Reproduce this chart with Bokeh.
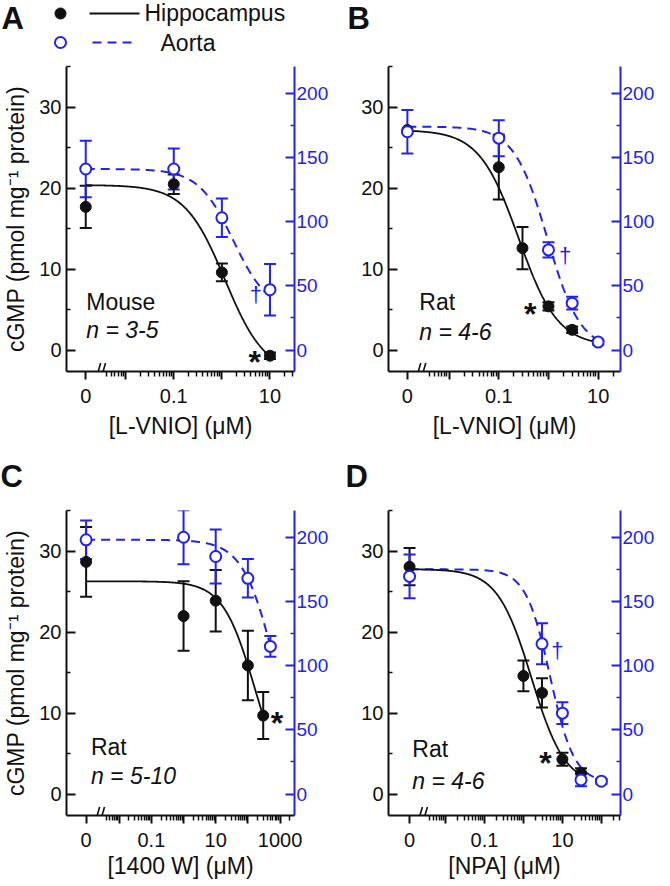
import numpy as np
from bokeh.plotting import figure
from bokeh.models import (Range1d, LinearAxis, FixedTicker, CustomJSTickFormatter,
                          Whisker, TeeHead, ColumnDataSource, Label)
from bokeh.layouts import column, row
from bokeh.embed import file_html
from bokeh.resources import INLINE
from bokeh.core.properties import value

BLUE = "#2222ee"
INK = "#111111"
FONT = "Liberation Sans"
RIGHT_SCALE = 6.3            # aorta axis units per hippocampus axis unit
Y_LEFT = (-2.65, 35.05)

# ---------------- data ----------------
# Panel A: mouse, L-VNIO
a_hip_conc = [0, 0.1, 1, 10]
a_hip_cgmp = [17.7, 20.5, 9.6, -0.7]
a_hip_sem = [2.6, 1.2, 1.1, 0.4]
a_aor_conc = [0, 0.1, 1, 10]
a_aor_cgmp = [141, 141, 103, 47]
a_aor_sem = [22, 16, 15, 20]
# Panel B: rat, L-VNIO
b_hip_conc = [0, 0.1, 0.3, 1, 3]
b_hip_cgmp = [27.2, 22.6, 12.6, 5.4, 2.5]
b_hip_sem = [0, 4.0, 2.6, 0.5, 0.4]
b_aor_conc = [0, 0.1, 1, 3, 10]
b_aor_cgmp = [170, 165, 78, 36.5, 6.2]
b_aor_sem = [17, 14, 6, 5, 2]
# Panel C: rat, 1400 W
c_hip_conc = [0, 1, 10, 100, 300]
c_hip_cgmp = [28.7, 22.0, 23.9, 15.9, 9.7]
c_hip_sem = [4.3, 4.3, 3.8, 4.3, 2.9]
c_aor_conc = [0, 1, 10, 100, 500]
c_aor_cgmp = [198, 200, 185, 168, 115]
c_aor_sem = [15, 21, 21, 15, 8]
# Panel D: rat, NPA
d_hip_conc = [0, 1, 3, 10, 30]
d_hip_cgmp = [28.1, 14.6, 12.5, 4.3, 2.6]
d_hip_sem = [2.3, 1.9, 1.8, 0.8, 0.6]
d_aor_conc = [0, 3, 10, 30, 100]
d_aor_cgmp = [169.5, 117, 63, 11, 10]
d_aor_sem = [17, 16, 8.5, 5, 2]

# fitted sigmoid curves: (top, bottom, IC50, Hill slope, last concentration)
a_hip_fit = (20.4, -3.0, 1.16, 1.04, 10)
a_aor_fit = (141, 30, 1.72, 1.2, 10)
b_hip_fit = (27.2, 0.5, 0.25, 1.1, 10)
b_aor_fit = (174, 0, 0.95, 1.3, 10)
c_hip_fit = (26.3, 0, 162, 0.88, 300)
c_aor_fit = (198, 0, 730, 0.866, 500)
d_hip_fit = (27.8, 1, 1.6, 1.0, 30)
d_aor_fit = (175, 9, 4.8, 1.4, 100)

left_ticks = [0, 10, 20, 30]
left_minor = [5, 15, 25, 35]
right_ticks = [0, 50, 100, 150, 200]
right_minor = [25, 75, 125, 175]

y_title = "cGMP (pmol mg\u207b\u00b9 protein)"
legend_names = ["Hippocampus", "Aorta"]


def hill(x, top, bottom, ic50, n):
    return bottom + (top - bottom) / (1.0 + (x / ic50) ** n)


def strip(width, height):
    s = figure(width=width, height=height, x_range=Range1d(0, width),
               y_range=Range1d(height, 0), output_backend="svg",
               toolbar_location=None, title=None,
               min_border=0, min_border_left=0, min_border_right=0,
               min_border_top=0, min_border_bottom=0)
    s.axis.visible = False
    s.xgrid.visible = False
    s.ygrid.visible = False
    s.outline_line_color = None
    s.background_fill_color = "white"
    s.border_fill_color = "white"
    return s


def make_panel(cfg):
    zero = 10 ** cfg["zero_log"]
    p = figure(width=cfg["w"], height=cfg["h"], x_axis_type="log",
               x_range=Range1d(10 ** cfg["x_lo"], 10 ** cfg["x_hi"]),
               y_range=Range1d(*Y_LEFT), output_backend="svg",
               toolbar_location=None, title=None,
               min_border_left=cfg["bl"], min_border_right=cfg["br"],
               min_border_top=cfg["bt"], min_border_bottom=cfg["bb"])
    p.extra_y_ranges = {"aorta": Range1d(Y_LEFT[0] * RIGHT_SCALE,
                                         Y_LEFT[1] * RIGHT_SCALE)}
    p.xgrid.visible = False
    p.ygrid.visible = False
    p.outline_line_color = None
    p.background_fill_color = "white"
    p.border_fill_color = "white"

    # ---- x axis (log with a zero position) ----
    decades = [10.0 ** k for k in range(-2, 5) if cfg["x_lo"] < k < cfg["x_hi"]]
    majors = [zero] + decades
    minors = []
    for k in range(-3, 5):
        for m in range(2, 10):
            v = m * 10.0 ** k
            lv = np.log10(v)
            if cfg["break_log"] + 0.1 < lv < cfg["x_hi"]:
                minors.append(v)
    lab_vals = [zero] + [v for v, _ in cfg["labels"]]
    lab_text = ["0"] + [t for _, t in cfg["labels"]]
    xa = p.xaxis[0]
    xa.ticker = FixedTicker(ticks=majors, minor_ticks=minors)
    xa.formatter = CustomJSTickFormatter(
        args=dict(vals=lab_vals, labs=lab_text),
        code="""
        const lt = Math.log10(tick);
        for (let i = 0; i < vals.length; i++) {
            if (Math.abs(lt - Math.log10(vals[i])) < 1e-6) { return labs[i]; }
        }
        return "";
        """)
    xa.axis_label = cfg["xlabel"]
    xa.axis_line_color = INK
    xa.axis_line_width = 2
    xa.major_tick_line_color = INK
    xa.major_tick_line_width = 2
    xa.minor_tick_line_color = INK
    xa.minor_tick_line_width = 1.5
    xa.major_tick_in = 0
    xa.major_tick_out = 8
    xa.minor_tick_in = 0
    xa.minor_tick_out = 5
    xa.major_label_standoff = 9
    xa.major_label_text_font = FONT
    xa.major_label_text_font_size = "20px"
    xa.major_label_text_color = INK
    xa.axis_label_standoff = cfg["xls"]
    xa.axis_label_text_font = FONT
    xa.axis_label_text_font_size = "23px"
    xa.axis_label_text_font_style = "normal"
    xa.axis_label_text_color = INK

    # ---- left axis ----
    ya = p.yaxis[0]
    ya.ticker = FixedTicker(ticks=left_ticks, minor_ticks=left_minor)
    ya.axis_label = cfg["ylabel"]
    ya.axis_line_color = INK
    ya.axis_line_width = 2
    ya.major_tick_line_color = INK
    ya.major_tick_line_width = 2
    ya.minor_tick_line_color = INK
    ya.minor_tick_line_width = 1.5
    ya.major_tick_in = 9
    ya.major_tick_out = 0
    ya.minor_tick_in = 4
    ya.minor_tick_out = 0
    ya.major_label_standoff = 5
    ya.major_label_text_font = FONT
    ya.major_label_text_font_size = "20px"
    ya.major_label_text_color = INK
    ya.axis_label_standoff = 7
    ya.axis_label_text_font = FONT
    ya.axis_label_text_font_size = "23px"
    ya.axis_label_text_font_style = "normal"
    ya.axis_label_text_color = INK

    # ---- right (aorta) axis ----
    ra = LinearAxis(y_range_name="aorta",
                    ticker=FixedTicker(ticks=right_ticks, minor_ticks=right_minor))
    ra.axis_line_color = BLUE
    ra.axis_line_width = 2
    ra.major_tick_line_color = BLUE
    ra.major_tick_line_width = 2
    ra.minor_tick_line_color = BLUE
    ra.minor_tick_line_width = 1.5
    ra.major_tick_in = 9
    ra.major_tick_out = 0
    ra.minor_tick_in = 4
    ra.minor_tick_out = 0
    ra.major_label_standoff = 2
    ra.major_label_text_font = FONT
    ra.major_label_text_font_size = "19px"
    ra.major_label_text_color = BLUE
    p.add_layout(ra, "right")

    # ---- fitted curves ----
    hf, af = cfg["hip_fit"], cfg["aor_fit"]
    xs_h = np.logspace(cfg["zero_log"], np.log10(hf[4]), 300)
    xs_a = np.logspace(cfg["zero_log"], np.log10(af[4]), 300)
    p.line(xs_a, hill(xs_a, *af[:4]), y_range_name="aorta",
           line_color=BLUE, line_width=2, line_dash="9 6")
    p.line(xs_h, hill(xs_h, *hf[:4]), line_color=INK, line_width=1.8)

    # ---- points ----
    hx = [zero if c == 0 else c for c in cfg["hip"][0]]
    ax = [zero if c == 0 else c for c in cfg["aor"][0]]
    p.scatter(hx, cfg["hip"][1], marker="circle", size=11,
              fill_color=INK, line_color=INK)
    p.scatter(ax, cfg["aor"][1], marker="circle", size=11, y_range_name="aorta",
              fill_color="white", line_color=BLUE, line_width=2)

    # ---- error bars ----
    def whisk(xv, yv, ev, color, rng=None):
        keep = [i for i, e in enumerate(ev) if e > 0]
        src = ColumnDataSource(dict(
            x=[xv[i] for i in keep],
            lo=[yv[i] - ev[i] for i in keep],
            hi=[yv[i] + ev[i] for i in keep]))
        kw = dict(base="x", lower="lo", upper="hi", source=src,
                  dimension="height", line_color=color, line_width=2,
                  upper_head=TeeHead(size=12, line_color=color, line_width=2),
                  lower_head=TeeHead(size=12, line_color=color, line_width=2))
        if rng:
            kw["y_range_name"] = rng
        p.add_layout(Whisker(**kw))

    whisk(hx, cfg["hip"][1], cfg["hip"][2], INK)
    whisk(ax, cfg["aor"][1], cfg["aor"][2], BLUE, "aorta")

    # ---- axis break marks (two slashes across the x axis) ----
    fw = cfg["w"] - cfg["bl"] - cfg["br"]
    ppd = fw / (cfg["x_hi"] - cfg["x_lo"])      # pixels per decade
    ppu = 305.0 / (Y_LEFT[1] - Y_LEFT[0])       # pixels per cGMP unit
    bx0, bx1, by0, by1 = [], [], [], []
    for off in (-2.5, 2.5):
        c = cfg["break_log"] + off / ppd
        bx0.append(10 ** (c - 2.5 / ppd))
        bx1.append(10 ** (c + 2.5 / ppd))
        by0.append(Y_LEFT[0] - 8.5 / ppu)
        by1.append(Y_LEFT[0] + 8.5 / ppu)
    p.segment(bx0, by0, bx1, by1, line_color=INK, line_width=1.6)

    # ---- texts ----
    p.add_layout(Label(x=10 ** cfg["species"][0], y=cfg["species"][1],
                       text=cfg["species"][2], text_font=FONT, text_font_size="23px",
                       text_color=INK, text_baseline="middle"))
    p.add_layout(Label(x=10 ** cfg["species"][0], y=cfg["nlab"][0],
                       text=cfg["nlab"][1], text_font=FONT, text_font_size="23px",
                       text_font_style="italic", text_color=INK,
                       text_baseline="middle"))
    for (sx, sy) in cfg["stars"]:
        p.add_layout(Label(x=sx, y=sy, text="*", text_font=FONT,
                           text_font_size="32px", text_font_style="bold",
                           text_color=INK, text_align="center",
                           text_baseline="middle"))
    for (dx, dy) in cfg["daggers"]:
        p.add_layout(Label(x=dx, y=dy, text="\u2020", text_font=FONT,
                           text_font_size="22px", text_color=BLUE,
                           text_align="center", text_baseline="middle",
                           y_range_name="aorta"))
    return p


WA, WB = 336, 326
H0, H1, HM, H2 = 56, 387, 57, 382
cfgA = dict(w=WA, h=H1, x_lo=-3.23, x_hi=1.51, zero_log=-2.83, break_log=-2.52,
            labels=[(0.1, "0.1"), (10, "10")], xlabel="[L-VNIO] (\u03bcM)",
            ylabel=y_title, bl=60, br=42, bt=10, bb=72, xls=7,
            hip=(a_hip_conc, a_hip_cgmp, a_hip_sem),
            aor=(a_aor_conc, a_aor_cgmp, a_aor_sem),
            hip_fit=a_hip_fit, aor_fit=a_aor_fit,
            species=(-2.82, 5.9, "Mouse"), nlab=(2.5, "n = 3-5"),
            stars=[(4.84, -1.5)], daggers=[(5.07, 43.6)])
cfgB = dict(w=WB, h=H1, x_lo=-3.22, x_hi=1.45, zero_log=-2.84, break_log=-2.57,
            labels=[(0.1, "0.1"), (10, "10")], xlabel="[L-VNIO] (\u03bcM)",
            ylabel="", bl=52, br=42, bt=10, bb=72, xls=7,
            hip=(b_hip_conc, b_hip_cgmp, b_hip_sem),
            aor=(b_aor_conc, b_aor_cgmp, b_aor_sem),
            hip_fit=b_hip_fit, aor_fit=b_aor_fit,
            species=(-2.6, 5.9, "Rat"), nlab=(2.2, "n = 4-6"),
            stars=[(0.43, 4.4)], daggers=[(2.16, 74)])
cfgC = dict(w=WA, h=H2, x_lo=-3.64, x_hi=3.45, zero_log=-3.03, break_log=-2.61,
            labels=[(0.1, "0.1"), (10, "10"), (1000, "1000")],
            xlabel="[1400 W] (\u03bcM)",
            ylabel=y_title, bl=60, br=42, bt=10, bb=67, xls=3,
            hip=(c_hip_conc, c_hip_cgmp, c_hip_sem),
            aor=(c_aor_conc, c_aor_cgmp, c_aor_sem),
            hip_fit=c_hip_fit, aor_fit=c_aor_fit,
            species=(-2.88, 5.8, "Rat"), nlab=(2.2, "n = 5-10"),
            stars=[(800, 8.8)], daggers=[])
cfgD = dict(w=WB, h=H2, x_lo=-3.46, x_hi=2.49, zero_log=-2.92, break_log=-2.59,
            labels=[(0.1, "0.1"), (10, "10")], xlabel="[NPA] (\u03bcM)",
            ylabel="", bl=52, br=42, bt=10, bb=67, xls=3,
            hip=(d_hip_conc, d_hip_cgmp, d_hip_sem),
            aor=(d_aor_conc, d_aor_cgmp, d_aor_sem),
            hip_fit=d_hip_fit, aor_fit=d_aor_fit,
            species=(-2.85, 5.6, "Rat"), nlab=(1.6, "n = 4-6"),
            stars=[(3.7, 3.9)], daggers=[(7.46, 112)])

pA = make_panel(cfgA)
pB = make_panel(cfgB)
pC = make_panel(cfgC)
pD = make_panel(cfgD)

# ---- top strip: panel letters A, B and the legend ----
sA = strip(WA, H0)
sB = strip(WB, H0)
sA.text(x=[1], y=[18], text=["A"], text_font=value(FONT), text_font_size="31px",
        text_font_style="bold", text_color=INK, text_baseline="middle")
sB.text(x=[11], y=[18], text=["B"], text_font=value(FONT), text_font_size="31px",
        text_font_style="bold", text_color=INK, text_baseline="middle")
sA.scatter([60], [13], marker="circle", size=11, fill_color=INK, line_color=INK)
sA.line([89, 139], [13, 13], line_color=INK, line_width=2)
sA.text(x=[144], y=[12], text=[legend_names[0]], text_font=value(FONT),
        text_font_size="23px", text_color=INK, text_baseline="middle")
sA.scatter([60], [42], marker="circle", size=11, fill_color="white",
           line_color=BLUE, line_width=2)
sA.line([92, 135], [42, 42], line_color=BLUE, line_width=2, line_dash="9 6")
sA.text(x=[160], y=[42], text=[legend_names[1]], text_font=value(FONT),
        text_font_size="23px", text_color=INK, text_baseline="middle")

# ---- middle strip: panel letters C, D ----
sC = strip(WA, HM)
sD = strip(WB, HM)
sC.text(x=[0], y=[33], text=["C"], text_font=value(FONT), text_font_size="31px",
        text_font_style="bold", text_color=INK, text_baseline="middle")
sD.text(x=[9], y=[33], text=["D"], text_font=value(FONT), text_font_size="31px",
        text_font_style="bold", text_color=INK, text_baseline="middle")

layout = column(row(sA, sB), row(pA, pB), row(sC, sD), row(pC, pD))
open("out.html", "w").write(file_html(layout, INLINE))
